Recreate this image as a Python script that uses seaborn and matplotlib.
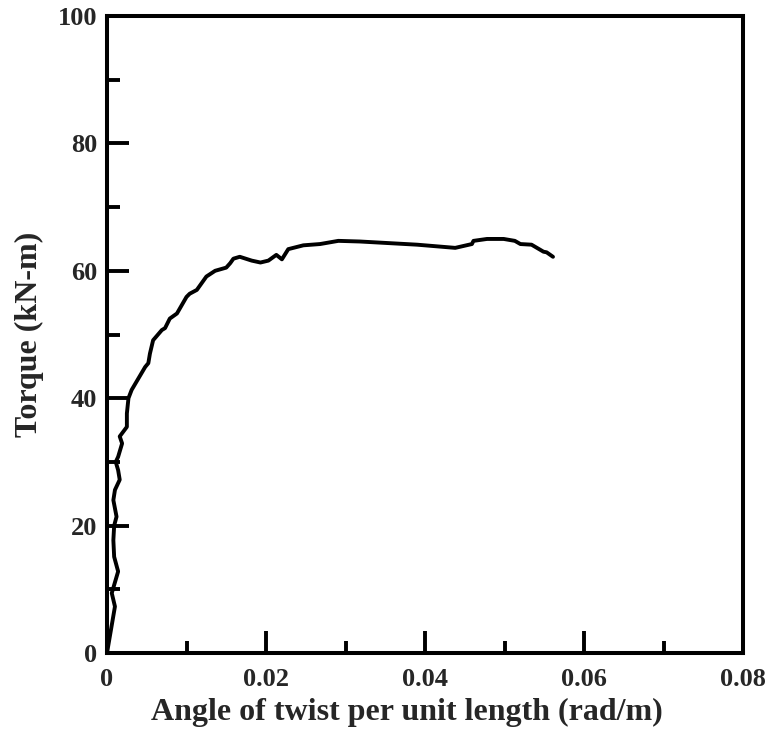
import matplotlib
matplotlib.use("Agg")
import matplotlib.pyplot as plt
import seaborn as sns
import pandas as pd
from matplotlib.ticker import MultipleLocator

angle = [0, 0.0010, 0.0006, 0.0014, 0.0009, 0.0008, 0.0009, 0.0012, 0.0008, 0.0010,
         0.0016, 0.0014, 0.0011, 0.0014, 0.0019, 0.0016, 0.0025, 0.0025, 0.0027, 0.0031,
         0.0048, 0.0052, 0.0054, 0.0058, 0.0069, 0.0073, 0.0079, 0.0088, 0.0100, 0.0104,
         0.0113, 0.0125, 0.0136, 0.0150, 0.0155, 0.0159, 0.0167, 0.0182, 0.0193, 0.0203,
         0.0213, 0.0220, 0.0228, 0.0247, 0.0268, 0.0291, 0.0318, 0.0390, 0.0438, 0.0459,
         0.0461, 0.0478, 0.0499, 0.0513, 0.0520, 0.0534, 0.0549, 0.0553, 0.0561]
torque = [0, 7.3, 9.4, 12.8, 15.1, 17.7, 20.0, 21.4, 24.0, 25.6,
          27.2, 28.7, 30.0, 30.8, 32.9, 34.0, 35.5, 37.6, 40.0, 41.3,
          44.9, 45.5, 47.0, 49.1, 50.7, 51.0, 52.5, 53.3, 55.9, 56.4,
          57.0, 59.1, 60.0, 60.5, 61.2, 61.9, 62.2, 61.6, 61.3, 61.6,
          62.5, 61.8, 63.4, 64.0, 64.2, 64.7, 64.6, 64.1, 63.6, 64.2,
          64.7, 65.0, 65.0, 64.7, 64.2, 64.1, 63.0, 62.9, 62.2]

x_ticks = [0, 0.02, 0.04, 0.06, 0.08]
x_tick_labels = ["0", "0.02", "0.04", "0.06", "0.08"]
y_ticks = [0, 20, 40, 60, 80, 100]
y_tick_labels = ["0", "20", "40", "60", "80", "100"]

sns.set_style("ticks")
plt.rcParams["font.family"] = ["Liberation Serif", "DejaVu Serif"]
plt.rcParams["font.weight"] = "bold"

df = pd.DataFrame({"angle": angle, "torque": torque})

fig = plt.figure(figsize=(7.72, 7.35), dpi=100)
ax = fig.add_axes([107/772, 1 - 653/735, 636/772, 637/735])

sns.lineplot(data=df, x="angle", y="torque", sort=False, estimator=None,
             color="black", linewidth=2.8, ax=ax)
for l in ax.lines:
    l.set_solid_joinstyle("round")
    l.set_solid_capstyle("round")

ax.set_xlim(0, 0.08)
ax.set_ylim(0, 100)
ax.set_xticks(x_ticks)
ax.set_xticklabels(x_tick_labels)
ax.set_yticks(y_ticks)
ax.set_yticklabels(y_tick_labels)
ax.xaxis.set_minor_locator(MultipleLocator(0.01))
ax.yaxis.set_minor_locator(MultipleLocator(10))

for s in ax.spines.values():
    s.set_linewidth(2.9)
    s.set_color("black")
    s.set_visible(True)

ax.tick_params(which="major", direction="in", length=16, width=2.8,
               labelsize=19, top=False, right=False, color="black")
ax.tick_params(which="minor", direction="in", length=9, width=2.8,
               top=False, right=False, color="black")
ax.tick_params(axis="x", which="major", pad=10.5)
ax.tick_params(axis="y", which="major", pad=7)
for lab in ax.get_xticklabels() + ax.get_yticklabels():
    lab.set_fontweight("bold")

ax.set_xlabel("Angle of twist per unit length (rad/m)", fontsize=23,
              fontweight="bold", va="baseline")
ax.xaxis.set_label_coords(0.4717, -0.1052)
ax.set_ylabel("Torque (kN-m)", fontsize=23, fontweight="bold", va="center")
ax.yaxis.set_label_coords(-0.1226, 0.5)

fig.savefig("out.png", dpi=100, facecolor="white")
